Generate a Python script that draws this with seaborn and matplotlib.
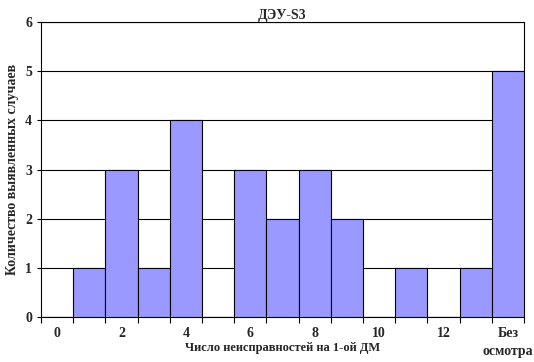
import matplotlib
matplotlib.use('Agg')
import matplotlib.pyplot as plt
import seaborn as sns
import pandas as pd
from matplotlib.ticker import FixedLocator

categories = ['0', '1', '2', '3', '4', '5', '6', '7', '8', '9', '10', '11', '12', '13', 'Без осмотра']
counts = [0, 1, 3, 1, 4, 0, 3, 2, 3, 2, 0, 1, 0, 1, 5]
tick_labels = ['0', '2', '4', '6', '8', '10', '12', 'Без\nосмотра']
tick_index = [0, 2, 4, 6, 8, 10, 12, 14]

sns.set_theme(style="white")
plt.rcParams['font.family'] = ['Liberation Serif', 'DejaVu Serif']
plt.rcParams['font.weight'] = 'bold'

df = pd.DataFrame({'cat': categories, 'n': counts})

fig = plt.figure(figsize=(5.34, 3.62), dpi=100)
ax = fig.add_axes([0.0768, 0.1243, 0.9045, 0.8147])
sns.barplot(data=df, x='cat', y='n', order=categories, color='#9999FF',
            saturation=1, width=1.0, edgecolor='black', linewidth=0.8, ax=ax, zorder=3)

ax.set_ylim(0, 6)
ax.set_xlim(-0.5, len(categories) - 0.5)
ax.set_yticks(range(0, 7))
ax.yaxis.grid(True, color='black', linewidth=0.8, zorder=0)
ax.set_axisbelow(True)

# labels at even categories, tick marks at category boundaries
ax.set_xticks(tick_index)
ax.set_xticklabels(tick_labels, fontsize=10, fontweight='bold', va='top', linespacing=1.5)
ax.tick_params(axis='x', which='major', length=0, pad=7)
ax.xaxis.set_minor_locator(FixedLocator([i - 0.5 for i in range(len(categories) + 1)]))
ax.tick_params(axis='x', which='minor', length=4, width=0.8, color='black', direction='out', bottom=True)
ax.tick_params(axis='y', length=3, width=0.8, color='black', direction='out', left=True, labelsize=10)
for lab in ax.get_yticklabels():
    lab.set_fontweight('bold')

for s in ax.spines.values():
    s.set_color('black')
    s.set_linewidth(0.8)

ax.set_title('ДЭУ-S3', fontsize=10, fontweight='bold', pad=2)
ax.set_ylabel('Количество выявленных случаев', fontsize=10, fontweight='bold', labelpad=4)
ax.set_xlabel('Число неисправностей на 1-ой ДМ', fontsize=9, fontweight='bold')
ax.xaxis.set_label_coords(0.5, -0.085)
ax.xaxis.label.set_va('top')

fig.savefig('out.png', dpi=100)
